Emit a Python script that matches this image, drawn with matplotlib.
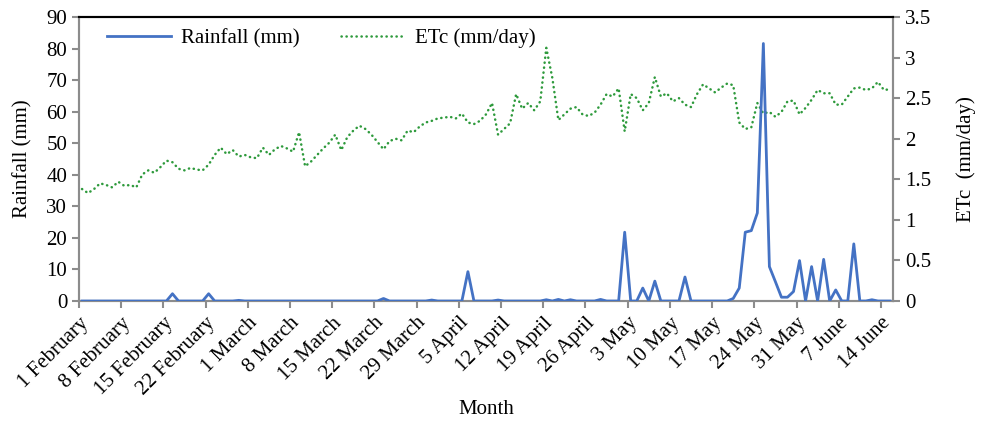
import matplotlib
matplotlib.use("Agg")
import matplotlib.pyplot as plt
import numpy as np

# ---- data (daily, 1 February .. 15 June) ----
etc = [1.38, 1.33, 1.38, 1.45, 1.43, 1.40, 1.47, 1.42, 1.43, 1.40,
       1.56, 1.61, 1.58, 1.65, 1.73, 1.71, 1.63, 1.61, 1.64, 1.62,
       1.61, 1.68, 1.80, 1.89, 1.81, 1.86, 1.78, 1.80, 1.77, 1.76,
       1.89, 1.80, 1.87, 1.91, 1.88, 1.84, 2.08, 1.66, 1.72, 1.80,
       1.88, 1.95, 2.05, 1.86, 2.02, 2.10, 2.16, 2.12, 2.05, 1.96,
       1.87, 1.97, 2.00, 1.98, 2.10, 2.08, 2.15, 2.20, 2.22, 2.25,
       2.26, 2.27, 2.25, 2.31, 2.20, 2.18, 2.22, 2.30, 2.44, 2.05,
       2.12, 2.19, 2.55, 2.37, 2.44, 2.35, 2.46, 3.12, 2.75, 2.23,
       2.30, 2.37, 2.39, 2.30, 2.28, 2.32, 2.42, 2.55, 2.52, 2.62,
       2.09, 2.55, 2.50, 2.35, 2.44, 2.76, 2.52, 2.56, 2.46, 2.50,
       2.42, 2.39, 2.55, 2.67, 2.62, 2.57, 2.63, 2.68, 2.66, 2.20,
       2.12, 2.14, 2.44, 2.31, 2.33, 2.27, 2.33, 2.46, 2.47, 2.30,
       2.38, 2.48, 2.60, 2.56, 2.56, 2.42, 2.42, 2.52, 2.62, 2.63,
       2.60, 2.62, 2.70, 2.60, 2.61]

rain_days = [15, 21, 26, 50, 58, 64, 69, 77, 79, 81, 86, 90, 93, 95, 100,
             108, 109, 110, 111, 112, 113, 114, 115, 116, 117, 118, 119,
             121, 123, 125, 128, 131]
rain_vals = [2.3, 2.3, 0.2, 0.8, 0.3, 9.3, 0.3, 0.4, 0.5, 0.4, 0.5, 21.8, 4.1,
             6.3, 7.6, 0.8, 4.1, 21.8, 22.3, 27.9, 81.6, 10.9, 6.1, 1.2, 1.2,
             3.0, 12.8, 10.9, 13.2, 3.5, 18.1, 0.4]

tick_labels = ["1 February", "8 February", "15 February", "22 February",
               "1 March", "8 March", "15 March", "22 March", "29 March",
               "5 April", "12 April", "19 April", "26 April", "3 May",
               "10 May", "17 May", "24 May", "31 May", "7 June", "14 June"]

n = len(etc)
rain = np.zeros(n)
for d, v in zip(rain_days, rain_vals):
    rain[d] = v
x = np.arange(n) + 0.5

plt.rcParams['font.family'] = ['Liberation Serif', 'DejaVu Serif']
fs = 15

fig = plt.figure(figsize=(9.81, 4.21), dpi=100)
ax = fig.add_axes([79/981, 1-301/421, (893-79)/981, (301-17)/421])
ax2 = ax.twinx()

l1, = ax.plot(x, rain, color='#4472C4', lw=2.0, label='Rainfall (mm)', zorder=3)
l2, = ax2.plot(x, etc, color='#2E9A3C', lw=1.8, linestyle=(0, (0.1, 1.9)),
               dash_capstyle='round', label='ETc (mm/day)')
ax.set_zorder(ax2.get_zorder() + 1)
ax.patch.set_visible(False)

ax.set_xlim(0, n)
ax.set_ylim(0, 90)
ax.set_yticks(np.arange(0, 91, 10))
ax2.set_ylim(0, 3.5)
ax2.set_yticks(np.arange(0, 3.51, 0.5))
ax2.set_yticklabels(['0', '0.5', '1', '1.5', '2', '2.5', '3', '3.5'])

ax.set_xticks(np.arange(0, n, 7))
ax.set_xticklabels(tick_labels, rotation=45, ha='right', rotation_mode='anchor')

grey = '#8C8C8C'
for a in (ax, ax2):
    for s in ('left', 'bottom', 'right'):
        a.spines[s].set_color(grey)
        a.spines[s].set_linewidth(1.5)
    a.spines['top'].set_color('black')
    a.spines['top'].set_linewidth(1.5)
    a.tick_params(colors=grey, labelcolor='black', labelsize=fs, length=5, width=1.5)
ax.tick_params(axis='x', pad=4)

ax.set_ylabel('Rainfall (mm)', fontsize=fs, labelpad=10)
ax2.set_ylabel('ETc  (mm/day)', fontsize=fs, labelpad=18)
fig.text((79 + 893) / 2 / 981, 1 - 409 / 421, 'Month', fontsize=fs,
         ha='center', va='center')

ax.legend(handles=[l1, l2], loc='upper left', ncol=2, frameon=False,
          fontsize=fs, bbox_to_anchor=(0.011, 1.025), handlelength=3.1,
          columnspacing=2.0, handletextpad=0.45)

fig.savefig('out.png', dpi=100)
